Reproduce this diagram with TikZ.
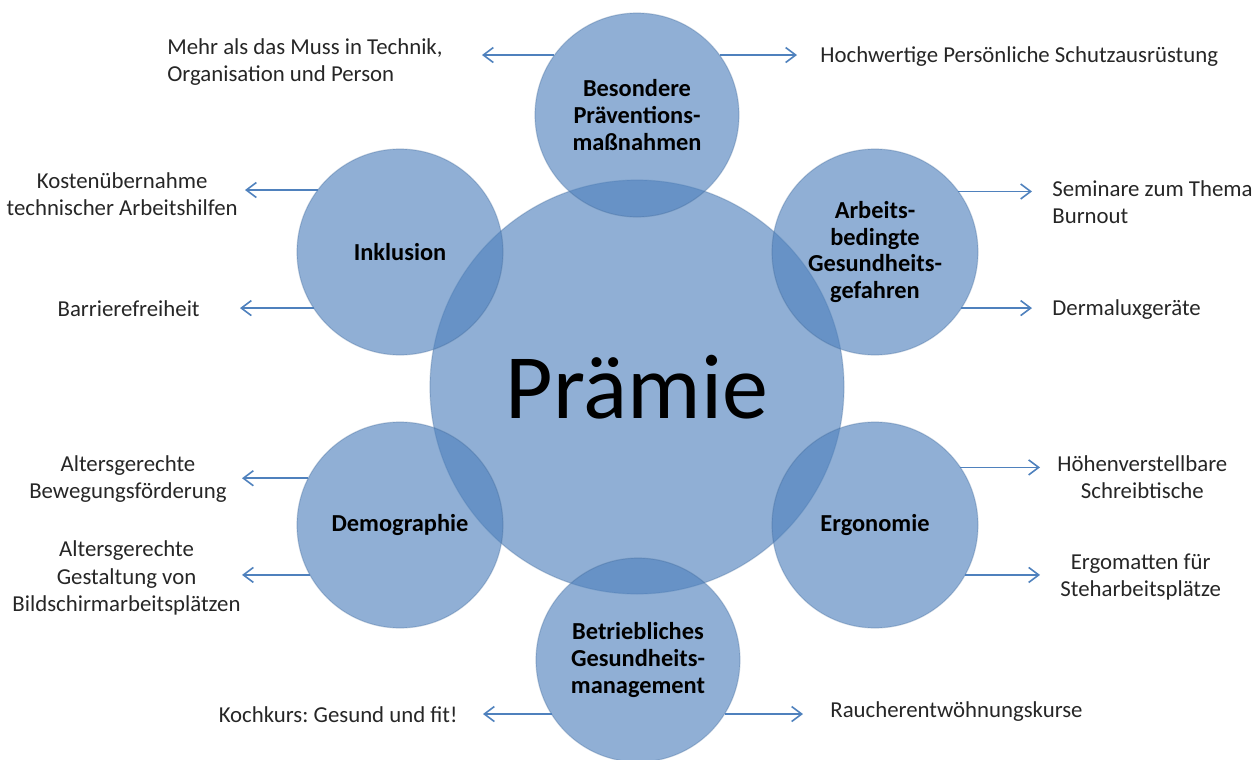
\documentclass[tikz,border=0pt]{standalone}
\usepackage{fontspec}
\setmainfont{Carlito}
\usetikzlibrary{arrows.meta}
\frenchspacing

\definecolor{ballblue}{RGB}{79,129,189}
\definecolor{arrowblue}{RGB}{79,129,189}

\tikzset{
  ball/.style={circle, fill=ballblue, fill opacity=0.63, text opacity=1,
    draw=ballblue!80!black, draw opacity=0.3, line width=0.6pt,
    inner sep=0pt, outer sep=0pt, align=center,
    font=\fontsize{12.2}{13.4}\selectfont\bfseries},
  info/.style={font=\fontsize{11.4}{13.6}\selectfont, align=center,
    text=black!85, inner ysep=0pt},
  link/.style={-{Straight Barb[length=5pt,width=7.5pt]}, line width=0.8pt,
    draw=arrowblue},
}

\begin{document}
\begin{tikzpicture}[x=0.5pt, y=-0.5pt]
  \useasboundingbox (0,0) rectangle (1260,760);

  % Central circle
  \node[ball, minimum size=207pt, font=\fontsize{46}{50}\selectfont] (praemie) at (637,387) {Prämie};

  % Surrounding circles
  \node[ball, minimum size=102pt] (praev) at (637,115) {Besondere\\Präventions-\\maßnahmen};
  \node[ball, minimum size=103pt] (arbeit) at (875,252) {Arbeits-\\bedingte\\Gesundheits-\\gefahren};
  \node[ball, minimum size=103pt] (inkl) at (400,252) {Inklusion};
  \node[ball, minimum size=103pt] (demo) at (400,525) {Demographie};
  \node[ball, minimum size=103pt] (ergo) at (875,525) {Ergonomie};
  \node[ball, minimum size=102pt] (bgm) at (638,660) {Betriebliches\\Gesundheits-\\management};

  % Texts on the left
  \node[info, align=left, anchor=east, inner xsep=19.5pt] (mehr) at (482,62) {Mehr als das Muss in Technik,\\Organisation und Person};
  \node[info, anchor=east, inner xsep=3.5pt] (kosten) at (245,194) {Kostenübernahme\\technischer Arbeitshilfen};
  \node[info, anchor=east, inner xsep=20pt] (barriere) at (240,309) {Barrierefreiheit};
  \node[info, anchor=east, inner xsep=7.5pt] (bewegung) at (242,479) {Altersgerechte\\Bewegungsförderung};
  \node[info, anchor=east, inner xsep=0.5pt] (bildschirm) at (242,578) {Altersgerechte\\Gestaltung von\\Bildschirmarbeitsplätzen};
  \node[info, anchor=east, inner xsep=12.5pt] (kochkurs) at (483,715) {Kochkurs: Gesund und fit!};

  % Texts on the right
  \node[info, anchor=west, inner xsep=11.5pt] (psa) at (797,57) {Hochwertige Persönliche Schutzausrüstung};
  \node[info, align=left, anchor=west, inner xsep=10pt] (burnout) at (1032,202) {Seminare zum Thema\\Burnout};
  \node[info, anchor=west, inner xsep=10pt] (dermalux) at (1032,310) {Dermaluxgeräte};
  \node[info, anchor=west, inner xsep=8.5pt] (tische) at (1040,477) {Höhenverstellbare\\Schreibtische};
  \node[info, anchor=west, inner xsep=10pt] (matten) at (1040,577) {Ergomatten für\\Steharbeitsplätze};
  \node[info, anchor=west, inner xsep=13.5pt] (raucher) at (803,712) {Raucherentwöhnungskurse};

  % Arrows
  \draw[link] (praev.144) -- (praev.144 -| mehr.east);
  \draw[link] (praev.36) -- (praev.36 -| psa.west);
  \draw[link] (inkl.143) -- (inkl.143 -| kosten.east);
  \draw[link] (inkl.213) -- (inkl.213 -| barriere.east);
  \draw[link] (arbeit.36) -- (arbeit.36 -| burnout.west);
  \draw[link] (arbeit.327) -- (arbeit.327 -| dermalux.west);
  \draw[link] (demo.153) -- (demo.153 -| bewegung.east);
  \draw[link] (demo.209) -- (demo.209 -| bildschirm.east);
  \draw[link] (ergo.34) -- (ergo.34 -| tische.west);
  \draw[link] (ergo.331) -- (ergo.331 -| matten.west);
  \draw[link] (bgm.212) -- (bgm.212 -| kochkurs.east);
  \draw[link] (bgm.328) -- (bgm.328 -| raucher.west);
\end{tikzpicture}
\end{document}
